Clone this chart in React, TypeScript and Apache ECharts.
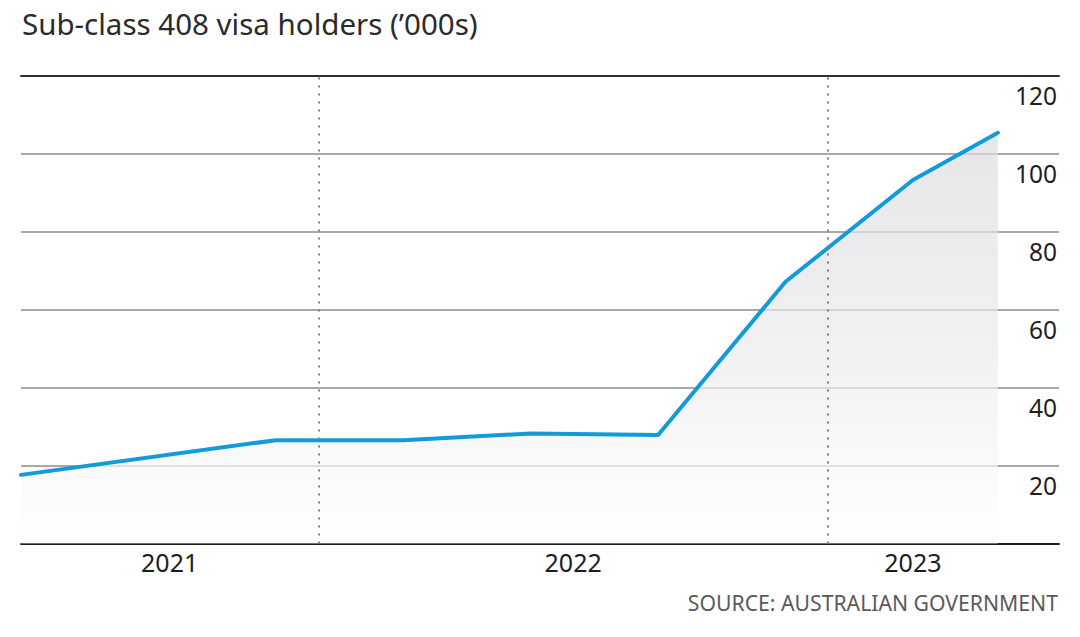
import React, { useEffect, useRef } from "react";
import * as echarts from "echarts";

// x positions in months since January 2021 (0 = Jan 2021)
const months = [5, 11, 14, 17, 20, 23, 26, 28];
const holders = [17.6, 26.5, 26.5, 28.2, 27.8, 67.1, 93.2, 105.3];
const yearBoundaries = [12, 24];
const yearLabelPos = [8.5, 18, 26];
const yearLabels = ["2021", "2022", "2023"];
const yTicks = [0, 20, 40, 60, 80, 100, 120];

const FONT = "Noto Sans";

export default function App() {
  const ref = useRef<HTMLDivElement>(null);
  useEffect(() => {
    if (!ref.current) return;
    const chart = echarts.init(ref.current, null, { renderer: "svg" });
    chart.setOption({
      animation: false,
      backgroundColor: "#ffffff",
      textStyle: { fontFamily: FONT },
      title: [
        {
          text: "Sub-class 408 visa holders (\u2019000s)",
          left: 22,
          top: 8,
          padding: 0,
          textStyle: { fontFamily: FONT, fontSize: 29.5, fontWeight: "normal", color: "#2b2b2b" },
        },
        {
          text: "SOURCE: AUSTRALIAN GOVERNMENT",
          right: 22,
          top: 592,
          padding: 0,
          textStyle: { fontFamily: FONT, fontSize: 21.2, fontWeight: "normal", color: "#5a5a5a" },
        },
      ],
      grid: { left: 21, right: 21, top: 75.5, bottom: 93.5, containLabel: false },
      xAxis: [
        {
          type: "value",
          min: 5,
          max: 29.44,
          axisLine: { show: true, lineStyle: { color: "#1e1e1e", width: 2 } },
          axisTick: { show: false },
          splitLine: { show: false },
          axisLabel: {
            show: true,
            customValues: yearLabelPos,
            formatter: (v: number) => {
              const i = yearLabelPos.indexOf(v);
              return i >= 0 ? yearLabels[i] : "";
            },
            fontFamily: FONT,
            fontSize: 25,
            color: "#1e1e1e",
            margin: 6,
            showMinLabel: true,
            showMaxLabel: true,
          },
        },
        {
          type: "value",
          position: "top",
          min: 5,
          max: 29.44,
          axisLine: { show: true, lineStyle: { color: "#2e2e2e", width: 2 } },
          axisTick: { show: false },
          axisLabel: { show: false },
          splitLine: { show: false },
        },
      ],
      yAxis: {
        type: "value",
        position: "right",
        min: 0,
        max: 120,
        interval: 20,
        axisLine: { show: false },
        axisTick: { show: false },
        splitLine: { show: true, lineStyle: { color: "#8c8c8c", width: 1.5 } },
        axisLabel: {
          inside: true,
          margin: 2,
          align: "right",
          verticalAlign: "top",
          padding: [7, 0, 0, 0],
          fontFamily: FONT,
          fontSize: 24.5,
          color: "#1e1e1e",
          formatter: (v: number) => (yTicks.includes(v) && v !== 0 ? String(v) : ""),
        },
      },
      series: [
        {
          type: "line",
          data: months.map((m, i) => [m, holders[i]]),
          symbol: "none",
          smooth: false,
          z: 3,
          lineStyle: { color: "#129ada", width: 4, cap: "round", join: "round" },
          areaStyle: {
            color: {
              type: "linear",
              x: 0,
              y: 0,
              x2: 0,
              y2: 1,
              colorStops: [
                { offset: 0, color: "#dcdcdf" },
                { offset: 0.5, color: "#eaeaec" },
                { offset: 1, color: "#ffffff" },
              ],
            },
          },
          markLine: {
            silent: true,
            symbol: "none",
            label: { show: false },
            lineStyle: { color: "#808080", width: 2, type: [2, 6] },
            data: yearBoundaries.map((m) => ({ xAxis: m })),
          },
        },
      ],
    });
    return () => chart.dispose();
  }, []);
  return <div ref={ref} style={{ position: "fixed", left: 0, top: 0, width: 1080, height: 637 }} />;
}
